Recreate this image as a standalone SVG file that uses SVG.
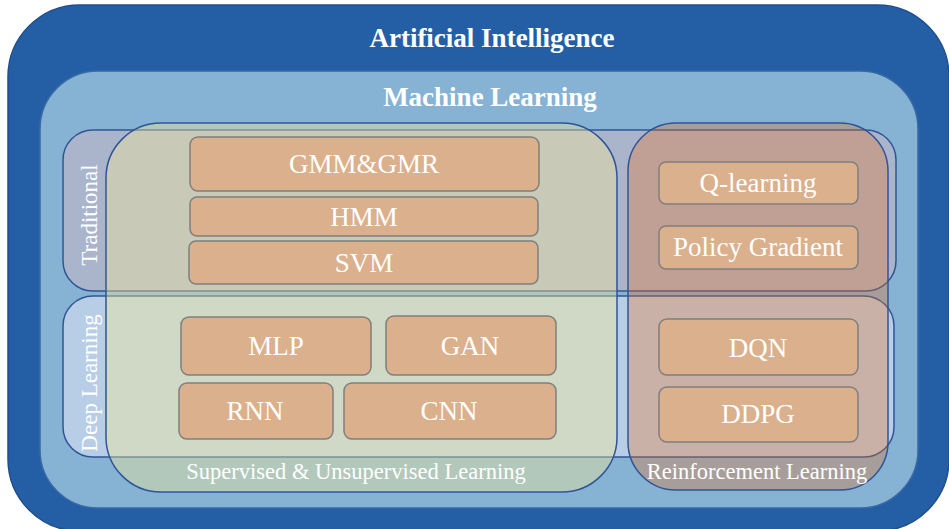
<svg xmlns="http://www.w3.org/2000/svg" width="949" height="529" viewBox="0 0 949 529">
<style>
.region{stroke:#2f5597;stroke-width:1.5}
.box{fill:#DBB08C;stroke:#7F7F7F;stroke-width:1.5}
.t{font-family:"Liberation Serif","Times New Roman",serif;fill:#ffffff;text-anchor:middle}
.title{font-size:27px;font-weight:bold}
.bl{font-size:27px}
.lab{font-size:22.5px}
.side{font-size:23px}
</style>
<rect width="949" height="529" fill="#ffffff"/>
<g id="ai">
<rect x="8" y="5" width="941" height="526" rx="72" ry="72" fill="#245FA6" stroke="#1f4e8c" stroke-width="1.5"/>
<text class="t title" x="492" y="47">Artificial Intelligence</text>
</g>
<g id="ml">
<rect x="40" y="71" width="878" height="437" rx="58" ry="58" fill="#86B2D4" stroke="#3a6aa6" stroke-width="1.5"/>
<text class="t title" x="490" y="106">Machine Learning</text>
</g>
<g id="traditional">
<rect class="region" x="63" y="130" width="833" height="161" rx="30" ry="30" fill="#AAB5CC"/>
<text class="t side" transform="translate(97,215) rotate(-90)">Traditional</text>
</g>
<g id="deep">
<rect class="region" x="63" y="296" width="831" height="161" rx="30" ry="30" fill="#B8CDE6"/>
<text class="t side" transform="translate(97,383) rotate(-90)">Deep Learning</text>
</g>
<g id="supervised">
<rect class="region" x="106" y="123" width="511" height="369" rx="55" ry="55" fill="#F6E996" fill-opacity="0.4"/>
<text class="t lab" x="356" y="479">Supervised &amp; Unsupervised Learning</text>
</g>
<g id="reinforcement">
<rect class="region" x="628" y="123" width="260" height="367" rx="48" ry="48" fill="#F46F16" fill-opacity="0.3"/>
<text class="t lab" x="757" y="479">Reinforcement Learning</text>
</g>
<g id="gmm"><rect class="box" x="190" y="137" width="349" height="54" rx="8"/><text class="t bl" x="364" y="173">GMM&amp;GMR</text></g>
<g id="hmm"><rect class="box" x="190" y="197" width="348" height="39" rx="7"/><text class="t bl" x="364" y="226">HMM</text></g>
<g id="svm"><rect class="box" x="189" y="241" width="349" height="43" rx="7"/><text class="t bl" x="364" y="272">SVM</text></g>
<g id="mlp"><rect class="box" x="181" y="317" width="190" height="58" rx="8"/><text class="t bl" x="276" y="355">MLP</text></g>
<g id="gan"><rect class="box" x="386" y="316" width="170" height="59" rx="8"/><text class="t bl" x="470" y="355">GAN</text></g>
<g id="rnn"><rect class="box" x="179" y="383" width="154" height="56" rx="8"/><text class="t bl" x="255" y="420">RNN</text></g>
<g id="cnn"><rect class="box" x="344" y="383" width="212" height="56" rx="8"/><text class="t bl" x="449" y="420">CNN</text></g>
<g id="qlearning"><rect class="box" x="659" y="162" width="199" height="42" rx="7"/><text class="t bl" x="758" y="192">Q-learning</text></g>
<g id="policy"><rect class="box" x="659" y="226" width="199" height="43" rx="7"/><text class="t bl" x="758" y="256">Policy Gradient</text></g>
<g id="dqn"><rect class="box" x="659" y="319" width="199" height="56" rx="8"/><text class="t bl" x="758" y="357">DQN</text></g>
<g id="ddpg"><rect class="box" x="659" y="387" width="199" height="55" rx="8"/><text class="t bl" x="758" y="423">DDPG</text></g>
<g id="connectors"></g>
</svg>
